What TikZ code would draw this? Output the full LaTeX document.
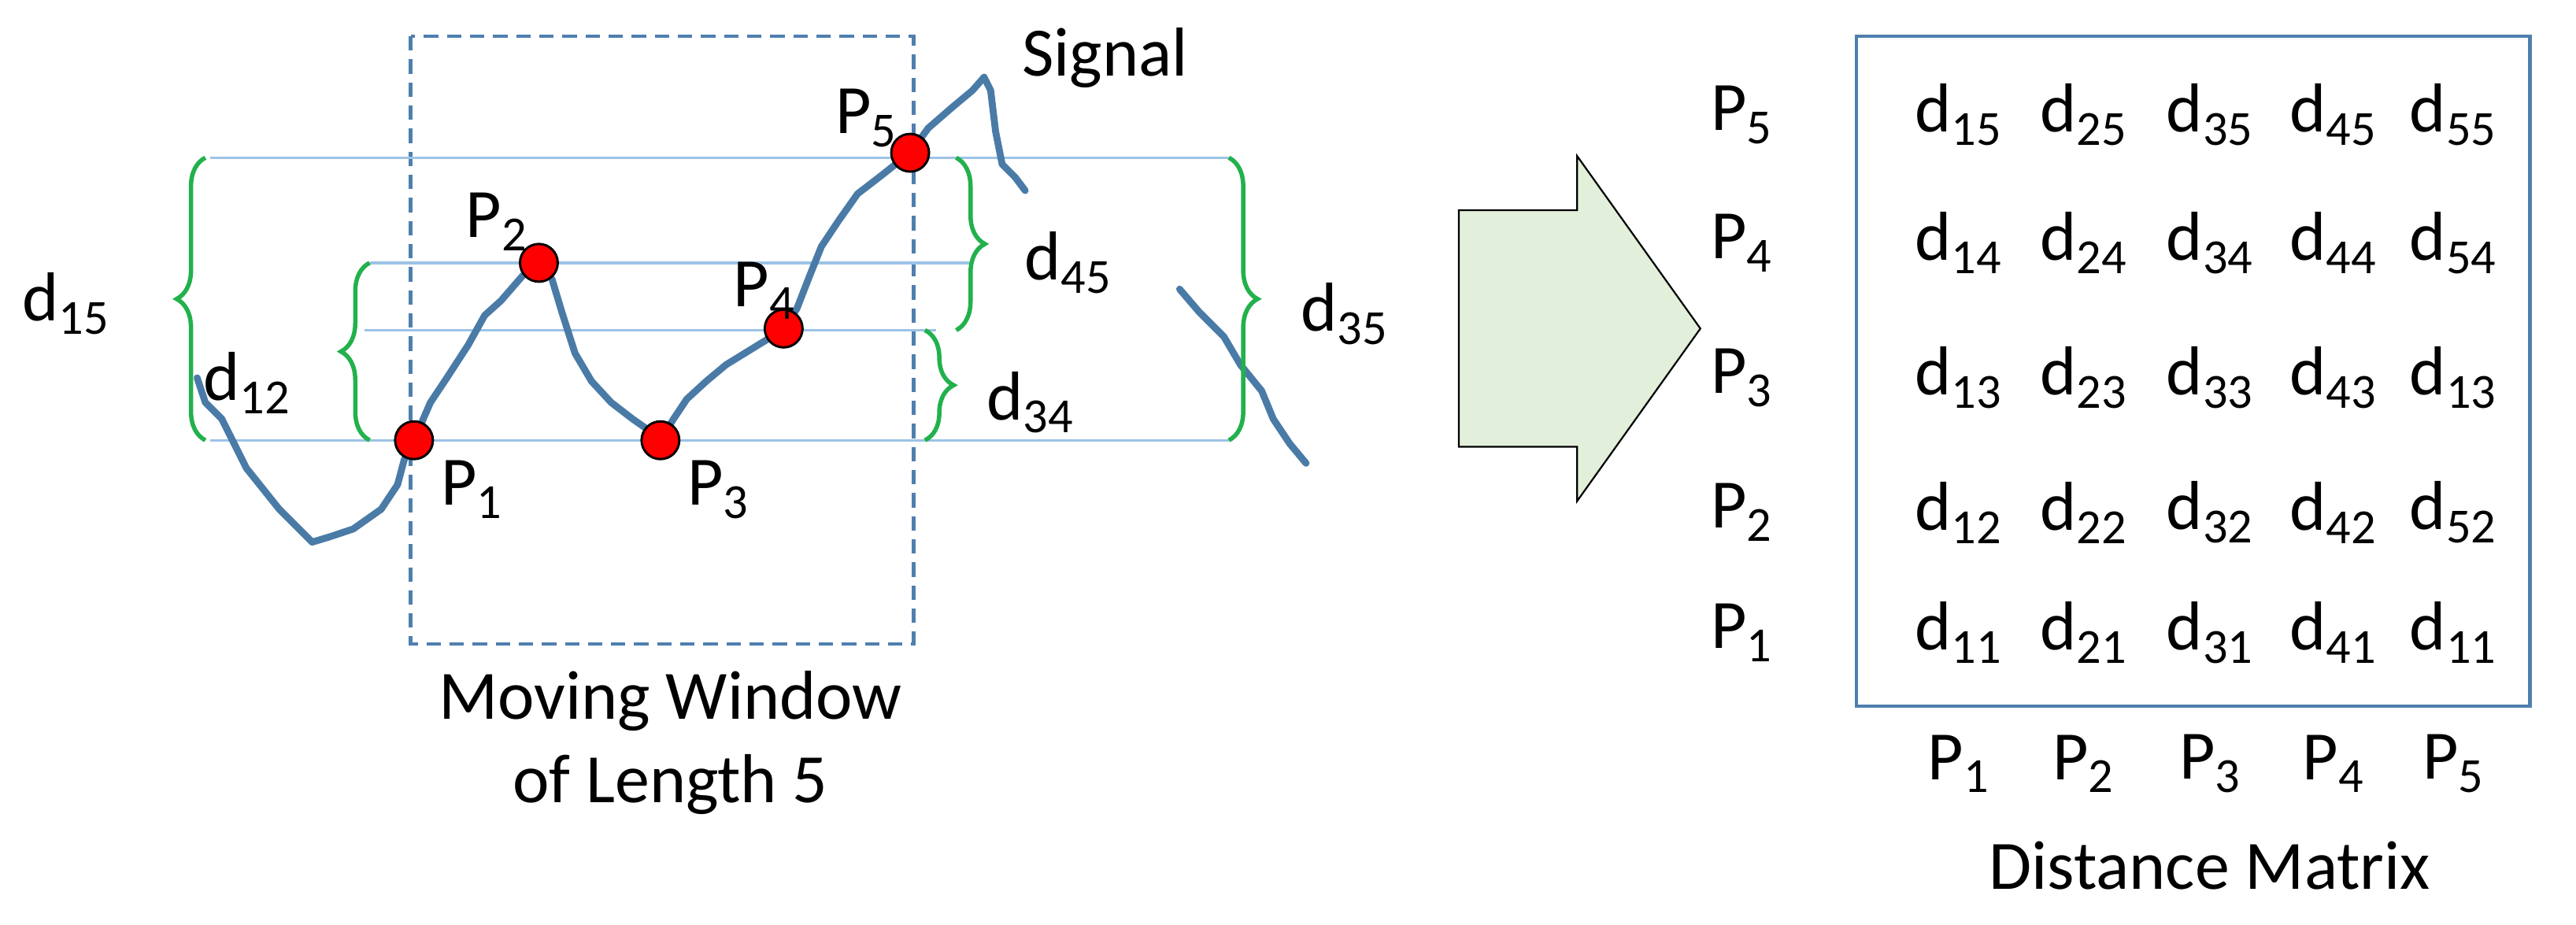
\documentclass[tikz,border=0pt]{standalone}
\usepackage{fontspec}
\setmainfont{Carlito}
\usetikzlibrary{decorations.pathreplacing}
\definecolor{sig}{HTML}{4A7BA7}
\definecolor{hl}{HTML}{9DC3E6}
\definecolor{gr}{HTML}{22B14C}
\definecolor{arrfill}{HTML}{E2EFDA}
\definecolor{mbox}{HTML}{4F7FAF}
\newcommand{\Sb}[2]{#1\raisebox{-0.4ex}{\fontsize{17}{18}\selectfont #2}}
\begin{document}
\begin{tikzpicture}[x=0.02cm,y=-0.02cm,
  txt/.style={font=\fontsize{24}{28}\selectfont, inner sep=1pt},
  dot/.style={circle, fill=red, draw=black, line width=0.8pt, minimum size=0.46cm, inner sep=0pt},
  hline/.style={hl, line width=0.9pt},
  br/.style={gr, line width=1.5pt, decorate, decoration={brace, amplitude=0.35cm}},
  signal/.style={sig, line width=2.4pt, line join=round, line cap=round}]
\useasboundingbox (0,0) rectangle (1568,563);
% window
\draw[mbox, line width=1.3pt, dash pattern=on 5pt off 3pt] (250,22) rectangle (556,392);
\node[txt, align=center] (win) at (408,452) {Moving Window\\[1pt]of Length 5};
% horizontal lines
\coordinate (a1) at (128,96); \coordinate (a2) at (748,96);
\coordinate (b1) at (225,160); \coordinate (b2) at (590,160);
\coordinate (c1) at (222,201); \coordinate (c2) at (570,201);
\coordinate (e1) at (128,268); \coordinate (e2) at (748,268);
\draw[hline] (a1)--(a2); \draw[hline] (b1)--(b2); \draw[hline] (c1)--(c2); \draw[hline] (e1)--(e2);
% signal
\draw[signal] (120,230) -- (125,245) -- (135,255) -- (150,285) -- (158,295) -- (170,310) -- (178,318) -- (190,330) -- (200,327) -- (215,322) -- (232,310) -- (242,295) -- (246,280) -- (252,268)
 -- (262,245) -- (272,230) -- (285,210) -- (295,192) -- (305,183) -- (318,168) -- (328,160) -- (336,170) -- (342,190) -- (350,215) -- (360,232) -- (372,245) -- (385,255) -- (395,262) -- (402,268)
 -- (410,255) -- (418,243) -- (430,232) -- (442,222) -- (455,214) -- (468,206) -- (477,200) -- (485,188) -- (492,170) -- (500,150) -- (510,135) -- (522,118) -- (535,108) -- (554,93)
 -- (565,78) -- (580,65) -- (592,55) -- (599,47) -- (603,55) -- (606,80) -- (610,100) -- (618,108) -- (624,116);
\draw[signal] (718,176) -- (730,190) -- (745,205) -- (755,222) -- (768,238) -- (775,255) -- (785,270) -- (795,282);
\node[txt, anchor=west] (sl) at (620,35) {Signal};
% points
\node[dot] (p1) at (252,268) {}; \node[dot] (p2) at (328,160) {}; \node[dot] (p3) at (402,268) {};
\node[dot] (p4) at (477,200) {}; \node[dot] (p5) at (554,93) {};
\node[txt] (l1) at (287,298) {\Sb{P}{1}}; \node[txt] (l2) at (302,135) {\Sb{P}{2}};
\node[txt] (l3) at (437,298) {\Sb{P}{3}}; \node[txt] (l4) at (465,177) {\Sb{P}{4}};
\node[txt] (l5) at (527,72) {\Sb{P}{5}};
% braces
\draw[br] (125,268) -- (125,96); \node[txt] (d15) at (40,185) {\Sb{d}{15}};
\draw[br] (225,268) -- (225,160); \node[txt] (d12) at (150,233) {\Sb{d}{12}};
\draw[br] (582,96) -- (582,201); \node[txt] (d45) at (650,160) {\Sb{d}{45}};
\draw[br] (563,201) -- (563,268); \node[txt] (d34) at (627,245) {\Sb{d}{34}};
\draw[br] (748,96) -- (748,268); \node[txt] (d35) at (818,191) {\Sb{d}{35}};
% big arrow
\draw[black, line width=0.6pt, fill=arrfill] (888,128) -- (960,128) -- (960,95) -- (1035,200) -- (960,305) -- (960,272) -- (888,272) -- cycle;
% matrix
\draw[mbox, line width=1.2pt] (1130,22) rectangle (1540,430);
\foreach \r/\y in {5/70,4/148,3/230,2/312,1/385}{
  \node[txt] (r\r) at (1060,\y) {\Sb{P}{\r}};
}
\foreach \c/\x in {1/1192,2/1268,3/1345,4/1420,5/1493}{
  \node[txt] (c\c) at (\x,465) {\Sb{P}{\c}};
}
\foreach \y/\row in {70/{15,25,35,45,55},148/{14,24,34,44,54},230/{13,23,33,43,13},312/{12,22,32,42,52},385/{11,21,31,41,11}}{
  \foreach \v [count=\i] in \row {
    \pgfmathsetmacro{\xx}{{1192,1268,1345,1420,1493}[\i-1]}
    \node[txt] (m\y-\i) at (\xx,\y) {\Sb{d}{\v}};
  }
}
\node[txt] (dm) at (1345,527) {Distance Matrix};
\end{tikzpicture}
\end{document}
